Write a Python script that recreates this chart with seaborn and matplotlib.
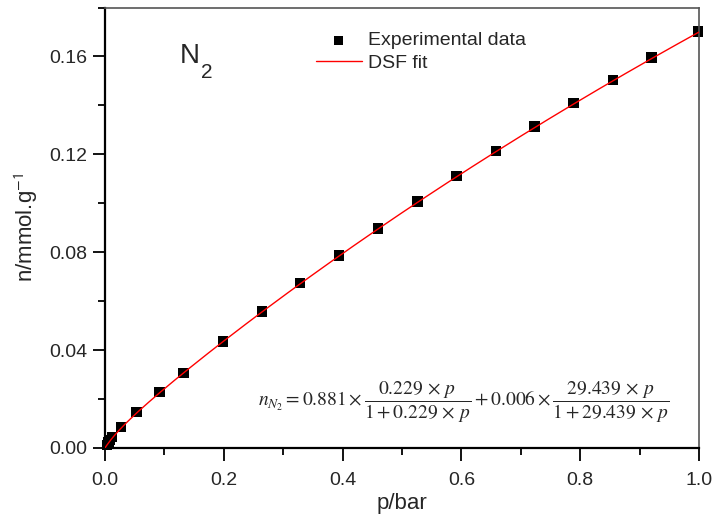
import numpy as np
import pandas as pd
import seaborn as sns
import matplotlib.pyplot as plt
from matplotlib.ticker import MultipleLocator, FormatStrFormatter

# Experimental N2 isotherm
pressure = [0.003, 0.006, 0.009, 0.012, 0.027, 0.053, 0.092, 0.132, 0.199,
            0.264, 0.328, 0.394, 0.460, 0.526, 0.592, 0.658, 0.723, 0.789,
            0.855, 0.920, 0.998]
uptake = [0.0013, 0.0024, 0.0034, 0.0045, 0.0086, 0.0147, 0.0228, 0.0307,
          0.0435, 0.0558, 0.0674, 0.0787, 0.0897, 0.1007, 0.1112, 0.1215,
          0.1314, 0.1409, 0.1504, 0.1596, 0.1702]

# DSF fit parameters printed on the chart
q1, b1 = 0.881, 0.229
q2, b2 = 0.006, 29.439

exp_df = pd.DataFrame({'p': pressure, 'n': uptake})
p_fit = np.linspace(0, 1, 300)
fit_df = pd.DataFrame({'p': p_fit,
                       'n': q1 * b1 * p_fit / (1 + b1 * p_fit)
                       + q2 * b2 * p_fit / (1 + b2 * p_fit)})

sns.set_style('ticks')
plt.rcParams['font.family'] = ['Liberation Sans', 'DejaVu Sans']
plt.rcParams['mathtext.fontset'] = 'stix'

fig = plt.figure(figsize=(7.18, 5.22), dpi=100)
ax = fig.add_axes([0.1462, 0.1418, 0.8273, 0.8438])

sns.lineplot(data=fit_df, x='p', y='n', color='red', linewidth=1.0,
             label='DSF fit', ax=ax, zorder=3)
sns.scatterplot(data=exp_df, x='p', y='n', marker='s', s=55, color='black',
                edgecolor='none', label='Experimental data', ax=ax, zorder=2,
                clip_on=False)

ax.set_xlim(0, 1.0)
ax.set_ylim(0, 0.18)
ax.xaxis.set_major_locator(MultipleLocator(0.2))
ax.xaxis.set_minor_locator(MultipleLocator(0.1))
ax.yaxis.set_major_locator(MultipleLocator(0.04))
ax.yaxis.set_minor_locator(MultipleLocator(0.02))
ax.xaxis.set_major_formatter(FormatStrFormatter('%.1f'))
ax.yaxis.set_major_formatter(FormatStrFormatter('%.2f'))
ax.tick_params(which='major', length=9, width=1.3, labelsize=14, color='black')
ax.tick_params(which='minor', length=5, width=1.3, color='black')
ax.tick_params(axis='x', pad=8)
ax.tick_params(axis='y', pad=4)

for side in ['left', 'bottom']:
    ax.spines[side].set_color('black')
    ax.spines[side].set_linewidth(1.6)
for side in ['top', 'right']:
    ax.spines[side].set_color('#555555')
    ax.spines[side].set_linewidth(1.2)

ax.set_xlabel('p/bar', fontsize=16, labelpad=3)
ax.set_ylabel('n/mmol.g$^{\\mathsf{-1}}$', fontsize=16, labelpad=6)

# legend: marker first, then line
handles, labels = ax.get_legend_handles_labels()
leg = ax.legend(handles[::-1], labels[::-1], loc='upper left',
                bbox_to_anchor=(0.325, 0.985), frameon=False, fontsize=14,
                handlelength=2.4, handletextpad=0.3, labelspacing=0.28,
                markerscale=0.85)

ax.text(0.126, 0.89, 'N', transform=ax.transAxes, fontsize=20,
        ha='left', va='center')
ax.text(0.161, 0.852, '2', transform=ax.transAxes, fontsize=15,
        ha='left', va='center')

eq = (r'$n_{N_2}=0.881\times\dfrac{0.229\,\times\,p}{1+0.229\,\times\,p}'
      r'+0.006\times\dfrac{29.439\,\times\,p}{1+29.439\,\times\,p}$')
ax.text(0.604, 0.104, eq, transform=ax.transAxes, fontsize=14,
        ha='center', va='center')

fig.savefig('out.png', dpi=100)
